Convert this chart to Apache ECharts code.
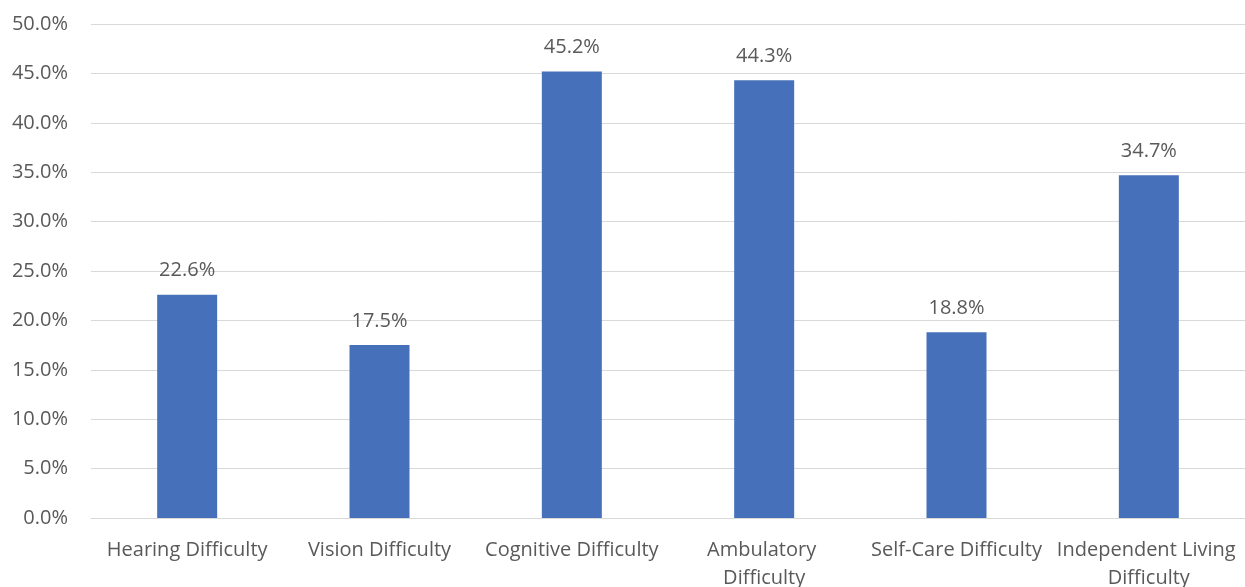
<!DOCTYPE html>
<html><head><meta charset="utf-8">
<script src="https://cdn.jsdelivr.net/npm/echarts@6/dist/echarts.min.js"></script>
<style>html,body{margin:0;padding:0;background:#fff}#c{width:1245px;height:587px}</style>
</head><body><div id="c"></div>
<script>
const categories = ['Hearing Difficulty','Vision Difficulty','Cognitive Difficulty','Ambulatory Difficulty','Self-Care Difficulty','Independent Living Difficulty'];
const values = [22.6, 17.5, 45.2, 44.3, 18.8, 34.7];
const yTicks = {min: 0, max: 50, interval: 5};
const FONT = 'Open Sans';
const chart = echarts.init(document.getElementById('c'), null, {renderer: 'canvas'});
chart.setOption({
  animation: false,
  grid: {left: 91, right: 0, top: 24, bottom: 69, containLabel: false, outerBoundsMode: 'none'},
  xAxis: {
    type: 'category', data: categories,
    axisLine: {show: true, lineStyle: {color: '#d9d9d9', width: 1}},
    axisTick: {show: false},
    axisLabel: {color: '#595959', fontFamily: FONT, fontSize: 20, margin: 18, interval: 0,
      width: 192, overflow: 'break', lineHeight: 28}
  },
  yAxis: {
    type: 'value', min: yTicks.min, max: yTicks.max, interval: yTicks.interval,
    axisLine: {show: false}, axisTick: {show: false},
    splitLine: {lineStyle: {color: '#d9d9d9', width: 1}},
    axisLabel: {color: '#595959', fontFamily: FONT, fontSize: 20, margin: 23,
      formatter: v => v.toFixed(1) + '%'}
  },
  series: [{
    type: 'bar', data: values, barWidth: 60,
    itemStyle: {color: '#4671BA'},
    label: {show: true, position: 'top', distance: 14, color: '#595959', fontFamily: FONT, fontSize: 20,
      formatter: p => p.value.toFixed(1) + '%'}
  }]
});
</script></body></html>
